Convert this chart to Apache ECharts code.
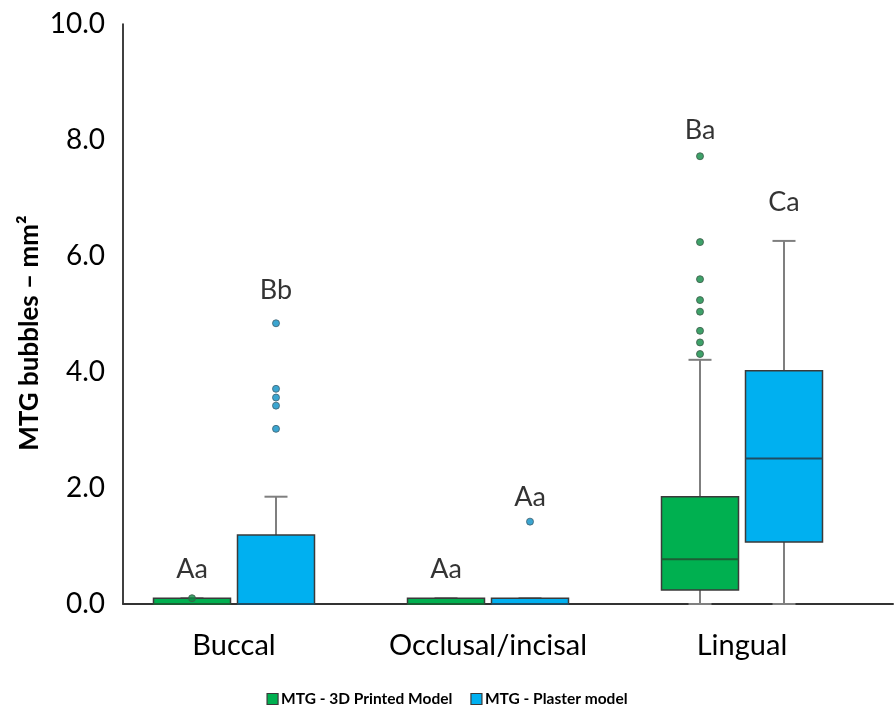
<!DOCTYPE html>
<html>
<head>
<meta charset="utf-8">
<style>
  html, body { margin: 0; padding: 0; background: #ffffff; }
  #chart { width: 894px; height: 707px; }
</style>
<script src="https://cdn.jsdelivr.net/npm/echarts@6/dist/echarts.min.js"></script>
</head>
<body>
<div id="chart"></div>
<script>
// Surface sites
const categories = ['Buccal', 'Occlusal/incisal', 'Lingual'];

// Five-number summaries per site: [min, Q1, median, Q3, max] (mm²)
const printedBox = [
  [0, 0, 0, 0.1, 0.1],
  [0, 0, 0, 0.1, 0.1],
  [0, 0.24, 0.77, 1.85, 4.21]
];
const plasterBox = [
  [0, 0, 0, 1.19, 1.85],
  [0, 0, 0, 0.1, 0.1],
  [0, 1.07, 2.51, 4.02, 6.26]
];

// Outliers: [site index, value]
const printedOutliers = [
  [0, 0.1],
  [2, 7.72], [2, 6.24], [2, 5.60], [2, 5.24], [2, 5.04], [2, 4.71], [2, 4.51], [2, 4.31]
];
const plasterOutliers = [
  [0, 4.84], [0, 3.71], [0, 3.56], [0, 3.42], [0, 3.02],
  [1, 1.42]
];

// Statistical group letters and the height they sit at
const printedLetters = ['Aa', 'Aa', 'Ba'];
const printedLetterY = [0.6, 0.6, 8.17];
const plasterLetters = ['Bb', 'Aa', 'Ca'];
const plasterLetterY = [5.41, 1.84, 6.93];

const yTicks = { min: 0, max: 10, interval: 2 };

const GREEN = '#00B050';
const BLUE = '#00B0F0';
const EDGE = '#3a3a3a';
const WHISKER = '#7f7f7f';
const OFFSET = 42;
const BOX_W = 77;
const CAP_W = 23;
const FONT = 'Lato, "Open Sans", sans-serif';

function boxRenderer(offset, fill, medianColor) {
  return function (params, api) {
    const c = api.value(0);
    const pMin = api.coord([c, api.value(1)]);
    const pQ1 = api.coord([c, api.value(2)]);
    const pMed = api.coord([c, api.value(3)]);
    const pQ3 = api.coord([c, api.value(4)]);
    const pMax = api.coord([c, api.value(5)]);
    const x = pMin[0] + offset;
    const half = BOX_W / 2;
    const wStyle = { stroke: WHISKER, lineWidth: 2 };
    return {
      type: 'group',
      children: [
        { type: 'line', shape: { x1: x, y1: pQ3[1], x2: x, y2: pMax[1] }, style: wStyle },
        { type: 'line', shape: { x1: x - CAP_W / 2, y1: pMax[1], x2: x + CAP_W / 2, y2: pMax[1] }, style: wStyle },
        { type: 'line', shape: { x1: x, y1: pQ1[1], x2: x, y2: pMin[1] }, style: wStyle },
        { type: 'line', shape: { x1: x - CAP_W / 2, y1: pMin[1], x2: x + CAP_W / 2, y2: pMin[1] }, style: wStyle },
        {
          type: 'rect',
          shape: { x: x - half, y: pQ3[1], width: BOX_W, height: pQ1[1] - pQ3[1] },
          style: { fill: fill, stroke: EDGE, lineWidth: 1.5 }
        },
        { type: 'line', shape: { x1: x - half, y1: pMed[1], x2: x + half, y2: pMed[1] }, style: { stroke: medianColor, lineWidth: 2 } }
      ]
    };
  };
}

function boxData(box) {
  return box.map((b, i) => [i].concat(b));
}

function letterData(letters, ys) {
  return letters.map((t, i) => ({ value: [i, ys[i]], label: { formatter: t } }));
}

function letterSeries(name, letters, ys, offset) {
  return {
    name: name,
    type: 'scatter',
    xAxisIndex: 0, yAxisIndex: 0,
    symbolSize: 0,
    silent: true,
    data: letterData(letters, ys),
    label: {
      show: true, position: 'inside', offset: [offset, 0],
      color: '#000', fontSize: 27, fontFamily: FONT,
      textBorderWidth: 0
    },
    z: 5
  };
}

const chart = echarts.init(document.getElementById('chart'), null, { renderer: 'canvas' });

chart.setOption({
  animation: false,
  backgroundColor: '#ffffff',
  grid: [
    { left: 107, width: 762, top: 24, bottom: 103 },
    { left: 123, right: 1, top: 24, bottom: 103 }
  ],
  xAxis: [
    {
      type: 'category', gridIndex: 0, data: categories, boundaryGap: true,
      axisLine: { show: false }, axisTick: { show: false },
      axisLabel: { color: '#000', fontSize: 29, fontFamily: FONT, margin: 27, interval: 0 }
    },
    {
      type: 'value', gridIndex: 1, min: 0, max: 1,
      axisLine: { show: true, onZero: false, lineStyle: { color: '#333', width: 2 } },
      axisTick: { show: false }, axisLabel: { show: false }, splitLine: { show: false }
    }
  ],
  yAxis: [
    {
      type: 'value', gridIndex: 0, min: yTicks.min, max: yTicks.max, interval: yTicks.interval,
      show: false
    },
    {
      type: 'value', gridIndex: 1, min: yTicks.min, max: yTicks.max, interval: yTicks.interval,
      axisLine: { show: true, onZero: false, lineStyle: { color: '#000', width: 1.5 } },
      axisTick: { show: false },
      splitLine: { show: false },
      axisLabel: {
        color: '#000', fontSize: 28, fontFamily: FONT, margin: 18,
        formatter: v => v.toFixed(1)
      }
    }
  ],
  legend: {
    top: 686, left: 'center',
    icon: 'rect', itemWidth: 11, itemHeight: 11, itemGap: 18,
    textStyle: { color: '#000', fontSize: 15.5, fontWeight: 'bold', fontFamily: FONT, padding: [0, 0, 0, -2] },
    data: [
      { name: 'MTG - 3D Printed Model', itemStyle: { color: GREEN, borderColor: EDGE, borderWidth: 1.2 } },
      { name: 'MTG - Plaster model', itemStyle: { color: BLUE, borderColor: EDGE, borderWidth: 1.2 } }
    ]
  },
  graphic: [
    {
      type: 'text', x: 30, y: 333, rotation: Math.PI / 2,
      style: {
        text: 'MTG bubbles – mm²', fill: '#000', fontSize: 26, fontWeight: 'bold', fontFamily: FONT,
        align: 'center', verticalAlign: 'middle'
      }
    }
  ],
  series: [
    {
      name: 'MTG - 3D Printed Model', type: 'custom', xAxisIndex: 0, yAxisIndex: 0,
      itemStyle: { color: GREEN, borderColor: EDGE },
      renderItem: boxRenderer(-OFFSET, GREEN, '#1d5e34'),
      encode: { x: 0, y: [1, 2, 3, 4, 5] },
      data: boxData(printedBox), z: 2
    },
    {
      name: 'MTG - Plaster model', type: 'custom', xAxisIndex: 0, yAxisIndex: 0,
      itemStyle: { color: BLUE, borderColor: EDGE },
      renderItem: boxRenderer(OFFSET, BLUE, '#1f4d63'),
      encode: { x: 0, y: [1, 2, 3, 4, 5] },
      data: boxData(plasterBox), z: 2
    },
    {
      name: 'MTG - 3D Printed Model', type: 'scatter', xAxisIndex: 0, yAxisIndex: 0,
      symbol: 'circle', symbolSize: 7, symbolOffset: [-OFFSET, 0],
      itemStyle: { color: '#0e8a44', borderColor: '#3c5a48', borderWidth: 1 },
      data: printedOutliers, z: 4
    },
    {
      name: 'MTG - Plaster model', type: 'scatter', xAxisIndex: 0, yAxisIndex: 0,
      symbol: 'circle', symbolSize: 7, symbolOffset: [OFFSET, 0],
      itemStyle: { color: '#0a8fc4', borderColor: '#3f5f6e', borderWidth: 1 },
      data: plasterOutliers, z: 4
    },
    letterSeries('printedLetters', printedLetters, printedLetterY, -OFFSET),
    letterSeries('plasterLetters', plasterLetters, plasterLetterY, OFFSET)
  ]
});
</script>
</body>
</html>
